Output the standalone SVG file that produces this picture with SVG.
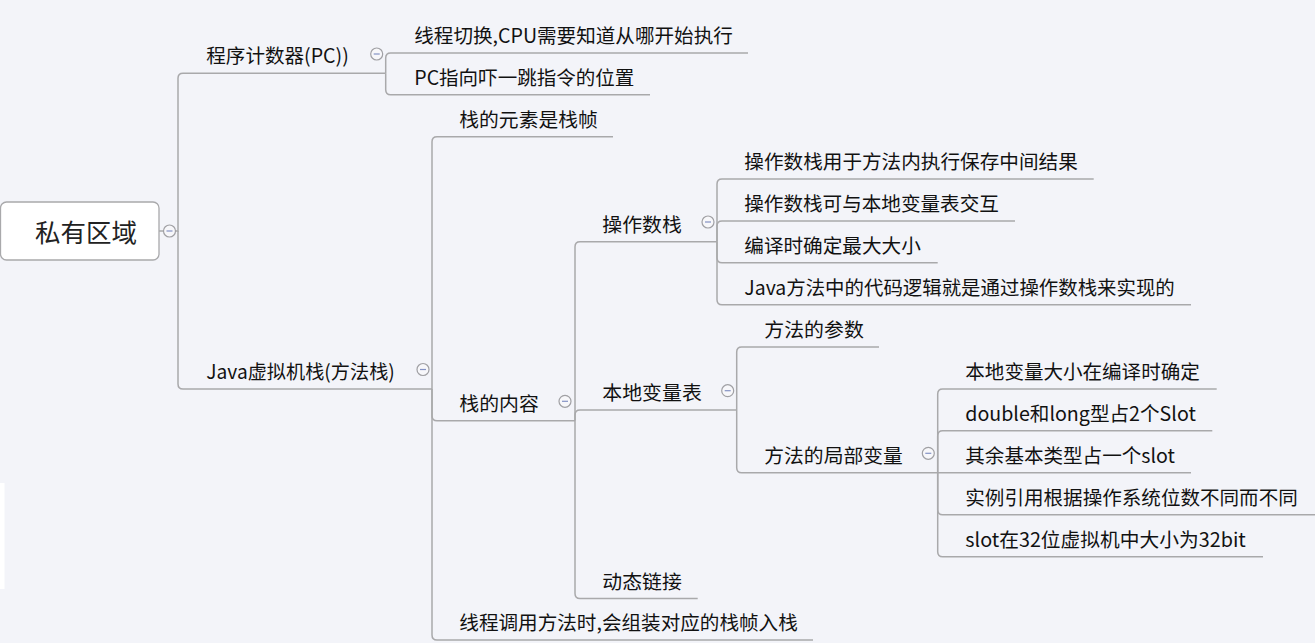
<svg xmlns="http://www.w3.org/2000/svg" width="1315" height="643" viewBox="0 0 1315 643">
<style>
.bg{fill:#f3f4f9}
.ln{fill:none;stroke:#a9a9ab;stroke-width:1.5}
.t{font-family:"Noto Sans CJK SC","Noto Sans",sans-serif;font-size:19.5px;fill:#111}
.root{font-family:"Noto Sans CJK SC","Noto Sans",sans-serif;font-size:25.5px;fill:#222}
.box{fill:#ffffff;stroke:#a9a9ab;stroke-width:1.3}
.cc{fill:#f7f7fa;stroke:#a0a0a4;stroke-width:1.2}
.cm{stroke:#8492c4;stroke-width:1.2}
</style>
<defs>
<g id="collapse"><circle class="cc" cx="0" cy="0" r="6"/><line class="cm" x1="-3" y1="0" x2="3" y2="0"/></g>
</defs>
<rect class="bg" x="0" y="0" width="1315" height="643"/>
<rect x="0" y="483" width="4.5" height="106" fill="#ffffff"/>
<g id="connectors">
<path class="ln" d="M159,231 H178 V78.3 Q178,73.3 183,73.3 H385.7"/>
<path class="ln" d="M178,231 V384 Q178,389 183,389 H432"/>
<path class="ln" d="M385.7,73.3 V58 Q385.7,53 390.7,53 H748"/>
<path class="ln" d="M385.7,73.3 V89.7 Q385.7,94.7 390.7,94.7 H650"/>
<path class="ln" d="M432,389 V141.7 Q432,136.7 437,136.7 H613"/>
<path class="ln" d="M432,389 V415.7 Q432,420.7 437,420.7 H575"/>
<path class="ln" d="M432,389 V635 Q432,640 437,640 H813"/>
<path class="ln" d="M575,420.7 V246.7 Q575,241.7 580,241.7 H717"/>
<path class="ln" d="M575,420.7 V415 Q575,410 580,410 H736.7"/>
<path class="ln" d="M575,420.7 V593.5 Q575,598.5 580,598.5 H697.7"/>
<path class="ln" d="M717,241.7 V184 Q717,179 722,179 H1093.7"/>
<path class="ln" d="M717,241.7 V226 Q717,221 722,221 H1015"/>
<path class="ln" d="M717,241.7 V257.7 Q717,262.7 722,262.7 H937.7"/>
<path class="ln" d="M717,241.7 V299.7 Q717,304.7 722,304.7 H1191"/>
<path class="ln" d="M736.7,410 V352 Q736.7,347 741.7,347 H879"/>
<path class="ln" d="M736.7,410 V467.7 Q736.7,472.7 741.7,472.7 H937.7"/>
<path class="ln" d="M937.7,472.7 V394 Q937.7,389 942.7,389 H1216.7"/>
<path class="ln" d="M937.7,472.7 V435.7 Q937.7,430.7 942.7,430.7 H1212.3"/>
<path class="ln" d="M937.7,472.7 H1191"/>
<path class="ln" d="M937.7,472.7 V509.7 Q937.7,514.7 942.7,514.7 H1315"/>
<path class="ln" d="M937.7,472.7 V551.7 Q937.7,556.7 942.7,556.7 H1263"/>
</g>
<g id="node-root">
<rect class="box" x="0.5" y="202" width="158.5" height="58" rx="6"/>
<text class="root" x="35" y="241.5" textLength="102" lengthAdjust="spacingAndGlyphs">私有区域</text>
<use href="#collapse" x="169.5" y="231"/>
</g>
<g id="node-pc">
<text class="t" x="206.3" y="63.3" textLength="142.5" lengthAdjust="spacingAndGlyphs">程序计数器(PC))</text>
<use href="#collapse" x="376.7" y="54"/>
</g>
<g id="node-pc-1"><text class="t" x="414.3" y="43" textLength="318.5" lengthAdjust="spacingAndGlyphs">线程切换,CPU需要知道从哪开始执行</text></g>
<g id="node-pc-2"><text class="t" x="414.3" y="84.7" textLength="220" lengthAdjust="spacingAndGlyphs">PC指向吓一跳指令的位置</text></g>
<g id="node-jvm">
<text class="t" x="206.3" y="379" textLength="188.5" lengthAdjust="spacingAndGlyphs">Java虚拟机栈(方法栈)</text>
<use href="#collapse" x="423" y="369.5"/>
</g>
<g id="node-frame"><text class="t" x="459.3" y="126.7" textLength="138.5" lengthAdjust="spacingAndGlyphs">栈的元素是栈帧</text></g>
<g id="node-content">
<text class="t" x="459.3" y="410.7" textLength="79.5" lengthAdjust="spacingAndGlyphs">栈的内容</text>
<use href="#collapse" x="565" y="401.3"/>
</g>
<g id="node-push"><text class="t" x="459.3" y="630" textLength="338.5" lengthAdjust="spacingAndGlyphs">线程调用方法时,会组装对应的栈帧入栈</text></g>
<g id="node-opstack">
<text class="t" x="602.3" y="231.7" textLength="79.5" lengthAdjust="spacingAndGlyphs">操作数栈</text>
<use href="#collapse" x="708" y="222"/>
</g>
<g id="node-op-1"><text class="t" x="744.3" y="169" textLength="333.5" lengthAdjust="spacingAndGlyphs">操作数栈用于方法内执行保存中间结果</text></g>
<g id="node-op-2"><text class="t" x="744.3" y="211" textLength="254.5" lengthAdjust="spacingAndGlyphs">操作数栈可与本地变量表交互</text></g>
<g id="node-op-3"><text class="t" x="744.3" y="252.7" textLength="176.5" lengthAdjust="spacingAndGlyphs">编译时确定最大大小</text></g>
<g id="node-op-4"><text class="t" x="744.3" y="294.7" textLength="430.5" lengthAdjust="spacingAndGlyphs">Java方法中的代码逻辑就是通过操作数栈来实现的</text></g>
<g id="node-locals">
<text class="t" x="602.3" y="400" textLength="99.5" lengthAdjust="spacingAndGlyphs">本地变量表</text>
<use href="#collapse" x="727.7" y="390.7"/>
</g>
<g id="node-params"><text class="t" x="764.3" y="337" textLength="99.5" lengthAdjust="spacingAndGlyphs">方法的参数</text></g>
<g id="node-localvars">
<text class="t" x="764.3" y="462.7" textLength="138.5" lengthAdjust="spacingAndGlyphs">方法的局部变量</text>
<use href="#collapse" x="928.3" y="453.3"/>
</g>
<g id="node-lv-1"><text class="t" x="965.3" y="379" textLength="234.5" lengthAdjust="spacingAndGlyphs">本地变量大小在编译时确定</text></g>
<g id="node-lv-2"><text class="t" x="965.3" y="420.7" textLength="230.5" lengthAdjust="spacingAndGlyphs">double和long型占2个Slot</text></g>
<g id="node-lv-3"><text class="t" x="965.3" y="462.7" textLength="209.5" lengthAdjust="spacingAndGlyphs">其余基本类型占一个slot</text></g>
<g id="node-lv-4"><text class="t" x="965.3" y="504.7" textLength="332.5" lengthAdjust="spacingAndGlyphs">实例引用根据操作系统位数不同而不同</text></g>
<g id="node-lv-5"><text class="t" x="965.3" y="546.7" textLength="280.5" lengthAdjust="spacingAndGlyphs">slot在32位虚拟机中大小为32bit</text></g>
<g id="node-dyn"><text class="t" x="602.3" y="588.5" textLength="79.5" lengthAdjust="spacingAndGlyphs">动态链接</text></g>
</svg>
